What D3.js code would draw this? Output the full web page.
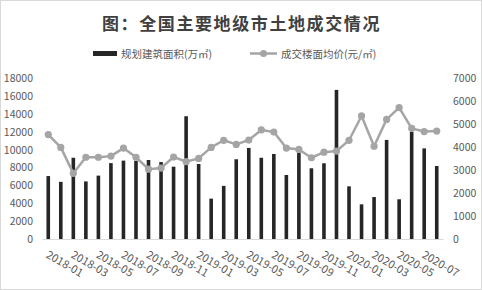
<!DOCTYPE html>
<html>
<head>
<meta charset="utf-8">
<script src="https://cdn.jsdelivr.net/npm/d3@7"></script>
<style>
    html, body { margin: 0; padding: 0; background: #fff; }
    svg { display: block; font-family: "Noto Sans CJK SC", "Liberation Sans", sans-serif; }
</style>
</head>
<body>
<div id="chart"></div>
<script>
const months = [
    "2018-01", "2018-02", "2018-03", "2018-04", "2018-05", "2018-06", "2018-07", "2018-08",
    "2018-09", "2018-10", "2018-11", "2018-12", "2019-01", "2019-02", "2019-03", "2019-04",
    "2019-05", "2019-06", "2019-07", "2019-08", "2019-09", "2019-10", "2019-11", "2019-12",
    "2020-01", "2020-02", "2020-03", "2020-04", "2020-05", "2020-06", "2020-07", "2020-08"
];
// 规划建筑面积 (万㎡), left axis
const areaValues = [
    7050, 6400, 9100, 6450, 7100, 8500, 8780, 8750,
    8850, 8620, 8100, 13750, 8400, 4520, 5950, 8930,
    10200, 9100, 9520, 7170, 9670, 7920, 8480, 16700,
    5900, 3880, 4700, 11100, 4450, 12000, 10150, 8180
];
// 成交楼面均价 (元/㎡), right axis
const priceValues = [
    4550, 3990, 2860, 3560, 3560, 3610, 3960, 3560,
    3040, 3090, 3570, 3370, 3510, 3990, 4300, 4120,
    4310, 4750, 4660, 3960, 3900, 3540, 3780, 3830,
    4300, 5360, 4040, 5210, 5720, 4820, 4680, 4700
];
const areaTicks = [0, 2000, 4000, 6000, 8000, 10000, 12000, 14000, 16000, 18000];
const priceTicks = [0, 1000, 2000, 3000, 4000, 5000, 6000, 7000];
const monthTicks = months.filter((m, i) => i % 2 === 0);

const titleText = "图：全国主要地级市土地成交情况";
const areaLabel = "规划建筑面积(万㎡)";
const priceLabel = "成交楼面均价(元/㎡)";

class LandChart
{
    constructor(selector)
    {
        this.width = 482;
        this.height = 290;
        this.plot = { left: 42, right: 443, top: 78.3, bottom: 239 };
        this.svg = d3.select(selector).append("svg")
            .attr("width", this.width)
            .attr("height", this.height);
        this.initScales();
    }

    initScales()
    {
        const p = this.plot;
        this.x = d3.scaleBand().domain(months).range([p.left, p.right]);
        this.yArea = d3.scaleLinear().domain([0, 18000]).range([p.bottom, p.top]);
        this.yPrice = d3.scaleLinear().domain([0, 7000]).range([p.bottom, p.top]);
    }

    draw()
    {
        this.drawFrame();
        this.drawTitle();
        this.drawLegend();
        this.drawAxes();
        this.drawBars();
        this.drawLine();
    }

    drawFrame()
    {
        this.svg.append("rect")
            .attr("x", 0.5).attr("y", 0.5)
            .attr("width", this.width - 1).attr("height", this.height - 1)
            .attr("fill", "#fff")
            .attr("stroke", "#d9d9d9");
    }

    drawTitle()
    {
        this.svg.append("text")
            .attr("x", 102)
            .attr("y", 30)
            .attr("font-size", 17)
            .attr("font-weight", "bold")
            .attr("letter-spacing", 1.6)
            .attr("fill", "#404040")
            .text(titleText);
    }

    drawLegend()
    {
        const g = this.svg.append("g").attr("fill", "#595959").attr("font-size", 10.5);

        g.append("rect")
            .attr("x", 93).attr("y", 51)
            .attr("width", 24).attr("height", 5)
            .attr("fill", "#262626");
        g.append("text").attr("x", 121).attr("y", 57.5).text(areaLabel);

        g.append("line")
            .attr("x1", 250).attr("x2", 277)
            .attr("y1", 53.5).attr("y2", 53.5)
            .attr("stroke", "#a5a5a5").attr("stroke-width", 2.5);
        g.append("circle")
            .attr("cx", 263.5).attr("cy", 53.5).attr("r", 3.5)
            .attr("fill", "#a5a5a5");
        g.append("text").attr("x", 281).attr("y", 57.5).text(priceLabel);
    }

    drawAxes()
    {
        const p = this.plot;
        const plain = d3.format("d");

        const left = this.svg.append("g")
            .attr("transform", `translate(${p.left},0)`)
            .call(d3.axisLeft(this.yArea).tickValues(areaTicks).tickFormat(plain)
                .tickSize(0).tickPadding(9));
        left.select(".domain").remove();

        const right = this.svg.append("g")
            .attr("transform", `translate(${p.right},0)`)
            .call(d3.axisRight(this.yPrice).tickValues(priceTicks).tickFormat(plain)
                .tickSize(0).tickPadding(10));
        right.select(".domain").remove();

        const bottom = this.svg.append("g")
            .attr("transform", `translate(0,${p.bottom})`)
            .call(d3.axisBottom(this.x).tickValues(monthTicks).tickSize(0).tickSizeOuter(0));
        bottom.select(".domain").attr("stroke", "#d9d9d9");

        [left, right, bottom].forEach(a => {
            a.attr("font-family", null);
            a.selectAll("text").attr("fill", "#595959").attr("font-size", 10.5);
        });

        // rotated month labels hang from the tick
        bottom.selectAll("text")
            .attr("x", 0).attr("y", 0).attr("dy", 0)
            .attr("font-size", 11)
            .attr("text-anchor", "start")
            .attr("transform", "translate(-3,18) rotate(30)");
    }

    drawBars()
    {
        const barWidth = 3.6;
        this.svg.append("g").selectAll("rect")
            .data(areaValues)
            .join("rect")
            .attr("x", (d, i) => this.x(months[i]) + this.x.bandwidth() / 2 - barWidth / 2)
            .attr("y", d => this.yArea(d))
            .attr("width", barWidth)
            .attr("height", d => this.yArea(0) - this.yArea(d))
            .attr("fill", "#262626");
    }

    drawLine()
    {
        const cx = (d, i) => this.x(months[i]) + this.x.bandwidth() / 2;
        const line = d3.line().x(cx).y(d => this.yPrice(d));

        const g = this.svg.append("g");
        g.append("path")
            .attr("d", line(priceValues))
            .attr("fill", "none")
            .attr("stroke", "#a5a5a5")
            .attr("stroke-width", 2.5)
            .attr("stroke-linejoin", "round");
        g.selectAll("circle")
            .data(priceValues)
            .join("circle")
            .attr("cx", cx)
            .attr("cy", d => this.yPrice(d))
            .attr("r", 3.6)
            .attr("fill", "#a5a5a5");
    }
}

new LandChart("#chart").draw();
</script>
</body>
</html>
